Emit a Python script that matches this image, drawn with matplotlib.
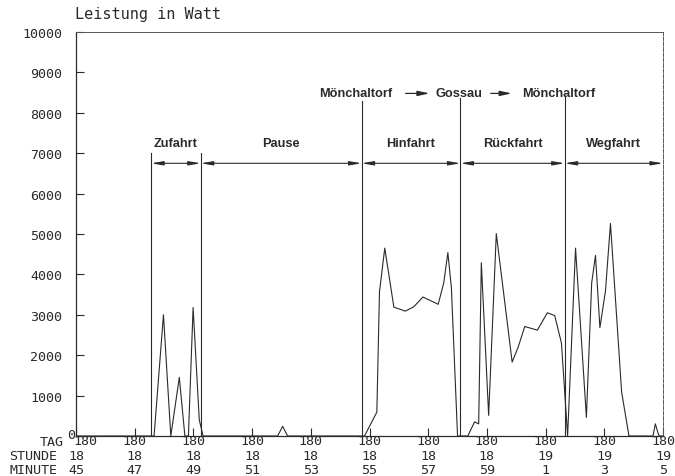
import matplotlib.pyplot as plt

# minutes after 18:45 (Tag 180) and power in watts
minute = [0.0, 2.66, 2.98, 3.23, 3.52, 3.71, 3.83, 3.99, 4.20, 4.33,
          6.87, 7.04, 7.21,
          9.83, 10.25, 10.34, 10.52, 10.83, 11.22, 11.51, 11.82, 12.34,
          12.53, 12.67, 12.79, 13.00,
          13.35, 13.58, 13.72, 13.81, 14.06, 14.32, 14.86, 15.06, 15.29,
          15.72, 16.06, 16.31, 16.54, 16.75,
          17.02, 17.39, 17.57, 17.70, 17.85, 18.04, 18.21, 18.59, 18.84,
          19.66, 19.74, 19.86, 20.0]
watt = [0, 0, 3000, 0, 1450, 0, 0, 3180, 400, 0,
        0, 240, 0,
        0, 590, 3570, 4650, 3190, 3090, 3200, 3440, 3260,
        3790, 4540, 3670, 0,
        0, 350, 300, 4290, 510, 5010, 1830, 2190, 2710,
        2620, 3050, 2980, 2300, 0,
        4650, 460, 3790, 4470, 2680, 3590, 5260, 1090, 0,
        0, 300, 0, 0]

tick_pos = [0, 2, 4, 6, 8, 10, 12, 14, 16, 18, 20]
tag = ['180'] * 11
stunde = ['18', '18', '18', '18', '18', '18', '18', '18', '19', '19', '19']
minute_lbl = ['45', '47', '49', '51', '53', '55', '57', '59', '1', '3', '5']

phases = ['Zufahrt', 'Pause', 'Hinfahrt', 'Rückfahrt', 'Wegfahrt']
bounds = [2.56, 4.25, 9.73, 13.1, 16.65, 20.0]
bound_top = [7000, 7000, 8300, 8370, 8420]

places = ['Mönchaltorf', 'Gossau', 'Mönchaltorf']
place_x = [9.52, 13.04, 16.45]
place_arrows = [(11.23, 12.05), (14.13, 14.85)]

ink = '#2a2a2a'
mono = 'DejaVu Sans Mono'
sans = 'Liberation Sans'

fig = plt.figure(figsize=(6.75, 4.77), dpi=100)
ax = fig.add_axes([76 / 675, 1 - 437 / 477, 587 / 675, 404 / 477])

ax.plot(minute, watt, color=ink, lw=0.8)

ax.set_xlim(0, 20)
ax.set_ylim(0, 10000)

# phase dividers
for b, top in zip(bounds[:-1], bound_top):
    ax.plot([b, b], [0, top], color=ink, lw=0.8)

# phase arrows and names
arrow_y = 6750
for i, name in enumerate(phases):
    x0, x1 = bounds[i], bounds[i + 1]
    ax.annotate('', xy=(x1, arrow_y), xytext=(x0, arrow_y),
                arrowprops=dict(arrowstyle='<|-|>,head_length=0.7,head_width=0.12',
                                color=ink, lw=0.8, shrinkA=0, shrinkB=0))
    ax.text((x0 + x1) / 2, 7250, name, ha='center', va='center',
            fontsize=9.2, fontweight='bold', family=sans, color=ink)

# route
for name, x in zip(places, place_x):
    ax.text(x, 8490, name, ha='center', va='center',
            fontsize=9.2, fontweight='bold', family=sans, color=ink)
for a, b in place_arrows:
    ax.annotate('', xy=(b, 8480), xytext=(a, 8480),
                arrowprops=dict(arrowstyle='-|>,head_length=0.7,head_width=0.15',
                                color=ink, lw=0.9, shrinkA=0, shrinkB=0))

# axes styling
for s in ['left', 'bottom']:
    ax.spines[s].set_color(ink)
    ax.spines[s].set_linewidth(0.9)
ax.spines['top'].set_color('#555555')
ax.spines['top'].set_linewidth(0.7)
ax.spines['right'].set_color('#555555')
ax.spines['right'].set_linewidth(0.7)
ax.spines['right'].set_linestyle((0, (4, 1.5)))

ax.set_yticks(range(0, 10001, 1000))
ax.set_yticklabels([''] + [str(v) for v in range(1000, 10001, 1000)])
ax.tick_params(axis='y', direction='in', length=6, width=0.8, color=ink,
               pad=10, labelsize=9.6, labelcolor=ink)
for lab in ax.get_yticklabels():
    lab.set_family(mono)

ax.set_xticks(tick_pos)
ax.set_xticklabels([])
ax.tick_params(axis='x', direction='in', length=6, width=0.8, color=ink)

# three-row time labels below the axis
rows = [(tag, -5), (stunde, -20), (minute_lbl, -34)]
for labels, dy in rows:
    for i, (x, lab) in enumerate(zip(tick_pos, labels)):
        dx = 7 if (i == 0 and labels is tag) else 0
        ax.annotate(lab, xy=(x, 0), xycoords=('data', 'axes fraction'),
                    xytext=(dx, dy * 0.72), textcoords='offset points',
                    ha='center', va='center', fontsize=9.6, family=mono,
                    color=ink, annotation_clip=False)

fig.text(64 / 675, 1 - 442 / 477, 'TAG', ha='right', va='center',
         fontsize=9.6, family=mono, color=ink)
fig.text(9 / 675, 1 - 457 / 477, 'STUNDE', ha='left', va='center',
         fontsize=9.6, family=mono, color=ink)
fig.text(9 / 675, 1 - 471 / 477, 'MINUTE', ha='left', va='center',
         fontsize=9.6, family=mono, color=ink)
fig.text(71 / 675, 1 - 436 / 477, '0', ha='center', va='center',
         fontsize=9.6, family=mono, color=ink)

fig.text(75 / 675, 1 - 15 / 477, 'Leistung in Watt', ha='left', va='center',
         fontsize=11, family=mono, color=ink)

fig.savefig('out.png', dpi=100)
